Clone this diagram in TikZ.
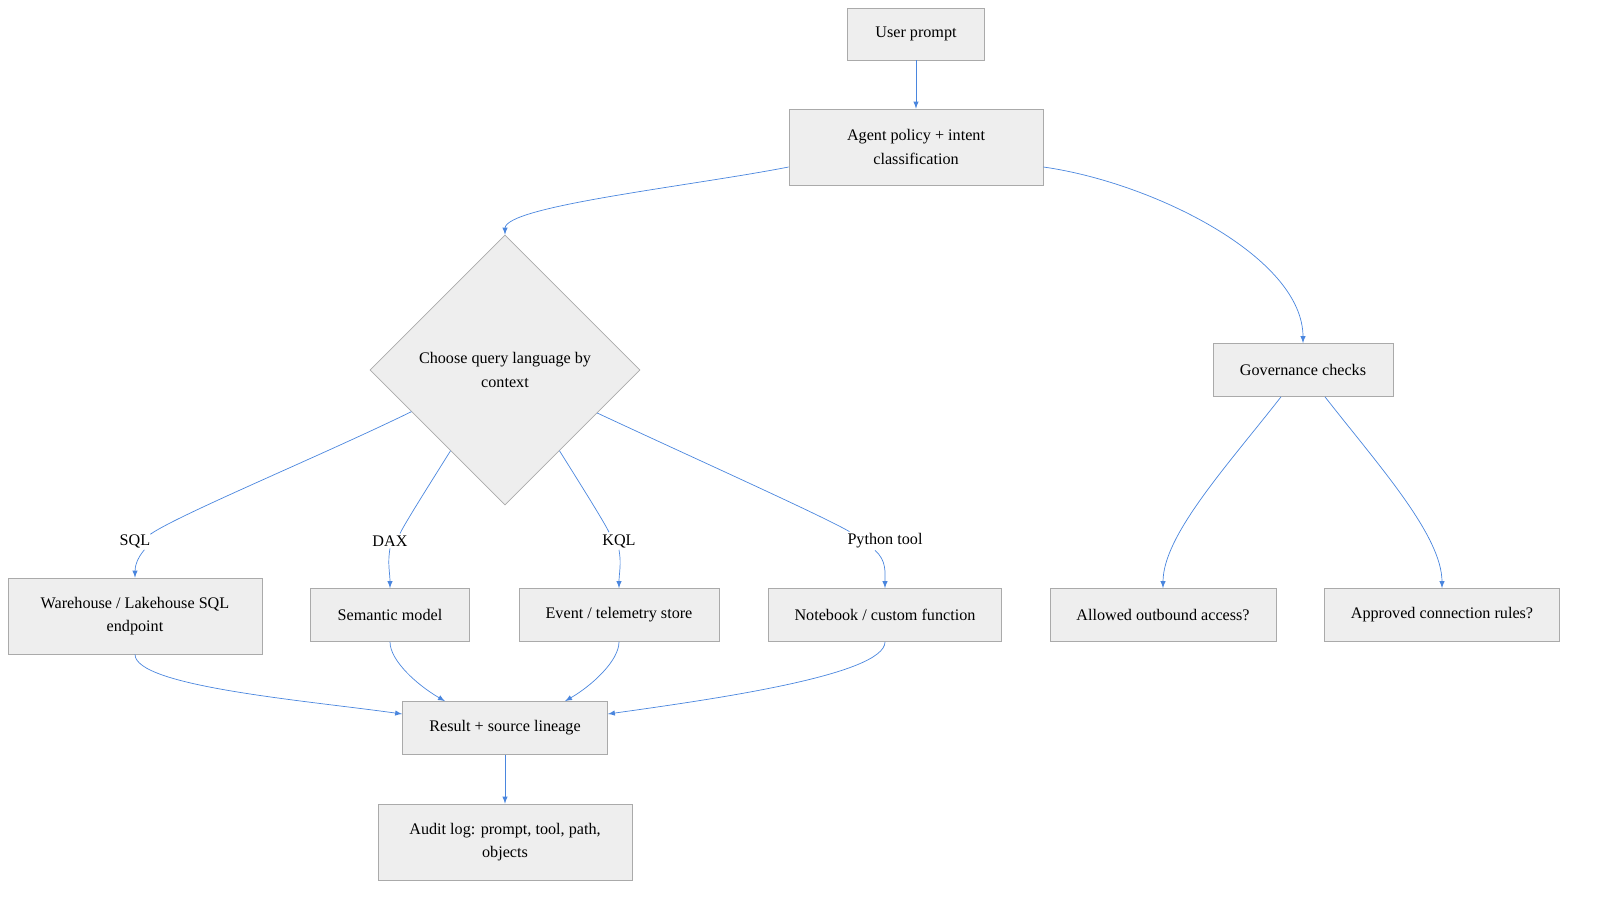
\documentclass[tikz,border=0pt]{standalone}
\usepackage{fontspec}
\setmainfont{Liberation Serif}
\usetikzlibrary{shapes.geometric,arrows,positioning,calc}
\definecolor{myfill}{RGB}{238,238,238}
\definecolor{myline}{RGB}{170,170,170}
\definecolor{myblue}{RGB}{74,134,222}

\begin{document}
\begin{tikzpicture}[
  x=0.02cm, y=-0.02cm,
  font=\fontsize{9.2pt}{13.5pt}\selectfont,
  mybox/.style={
    draw=myline,
    fill=myfill,
    rectangle,
    align=center,
    inner sep=0pt
    },
  mydiam/.style={
    draw=myline,
    fill=myfill,
    diamond,
    aspect=1,
    minimum width=5.4cm,
    minimum height=5.4cm,
    align=center,
    inner sep=0pt
    },
  mylabel/.style={
    inner sep=1pt
    },
  myarrow/.style={
    draw=myblue,
    -latex
    },
  myline/.style={
    draw=myblue
    }
]
\useasboundingbox (0,0) rectangle (1606,910);

\node[mybox, minimum width=2.74cm, minimum height=1.04cm] (prompt) at (916,34) {User prompt};
\node[mybox, minimum width=5.08cm, minimum height=1.52cm] (agent) at (916,147) {Agent policy + intent\\classification};
\node[mydiam] (choose) at (505,370) {Choose query language by\\context};
\node[mybox, minimum width=3.6cm, minimum height=1.06cm] (govern) at (1303,370) {Governance checks};

\node[mylabel] (sql) at (135,541) {SQL};
\node[mylabel] (dax) at (390,541) {DAX};
\node[mylabel] (kql) at (619,541) {KQL};
\node[mylabel] (python) at (885,541) {Python tool};

\node[mybox, minimum width=5.08cm, minimum height=1.52cm] (warehouse) at (135,616) {Warehouse / Lakehouse SQL\\endpoint};
\node[mybox, minimum width=3.18cm, minimum height=1.06cm] (semantic) at (390,615) {Semantic model};
\node[mybox, minimum width=4.0cm, minimum height=1.06cm] (event) at (619,615) {Event / telemetry store};
\node[mybox, minimum width=4.66cm, minimum height=1.06cm] (notebook) at (885,615) {Notebook / custom function};
\node[mybox, minimum width=4.52cm, minimum height=1.06cm] (allowed) at (1163,615) {Allowed outbound access?};
\node[mybox, minimum width=4.7cm, minimum height=1.06cm] (approved) at (1442,615) {Approved connection rules?};

\node[mybox, minimum width=4.1cm, minimum height=1.06cm] (result) at (505,728) {Result + source lineage};
\node[mybox, minimum width=5.08cm, minimum height=1.52cm] (audit) at (505,842) {Audit log: prompt, tool, path,\\objects};

% top part
\draw[myarrow] (prompt) -- (agent);
\draw[myarrow] ($(agent.west)+(0,20)$) to[out=191,in=90,out looseness=0.9,in looseness=0.25] (choose.north);
\draw[myarrow] ($(agent.east)+(0,20)$) to[out=-8,in=90,out looseness=0.9,in looseness=0.7] (govern.north);

% query languages
\draw[myline] (choose.204) to[out=-154,in=35,out looseness=0.9,in looseness=0.3] ($(sql.north east)+(-2,2)$);
\draw[myarrow] ($(sql.south east)+(-8,0)$) to[out=-130,in=90] (warehouse.north);
\draw[myline] (choose.236) to[out=-122,in=65,in looseness=0.3] ($(dax.north)+(10,0)$);
\draw[myarrow] (dax.south) to[out=-100,in=90] (semantic.north);
\draw[myline] (choose.304) to[out=-58,in=115,in looseness=0.3] ($(kql.north)+(-10,0)$);
\draw[myarrow] (kql.south) to[out=-80,in=90] (event.north);
\draw[myline] (choose.335) to[out=-25,in=150,in looseness=0.3] ($(python.north west)+(4,0)$);
\draw[myarrow] ($(python.south)+(-10,0)$) to[out=-40,in=90] (notebook.north);

% governance
\draw[myarrow] ($(govern.south)+(-22,0)$) to[out=-128,in=90,in looseness=0.6] (allowed.north);
\draw[myarrow] ($(govern.south)+(22,0)$) to[out=-52,in=90,in looseness=0.6] (approved.north);

% merge
\draw[myarrow] (warehouse.south) to[out=-90,in=172,out looseness=0.3,in looseness=0.9] ($(result.west)+(0,-14)$);
\draw[myarrow] (semantic.south) to[out=-90,in=150,out looseness=0.6] ($(result.north)+(-60,0)$);
\draw[myarrow] (event.south) to[out=-90,in=30,out looseness=0.6] ($(result.north)+(60,0)$);
\draw[myarrow] (notebook.south) to[out=-90,in=8,out looseness=0.3,in looseness=0.9] ($(result.east)+(0,-14)$);
\draw[myarrow] (result) -- (audit);

\end{tikzpicture}
\end{document}
